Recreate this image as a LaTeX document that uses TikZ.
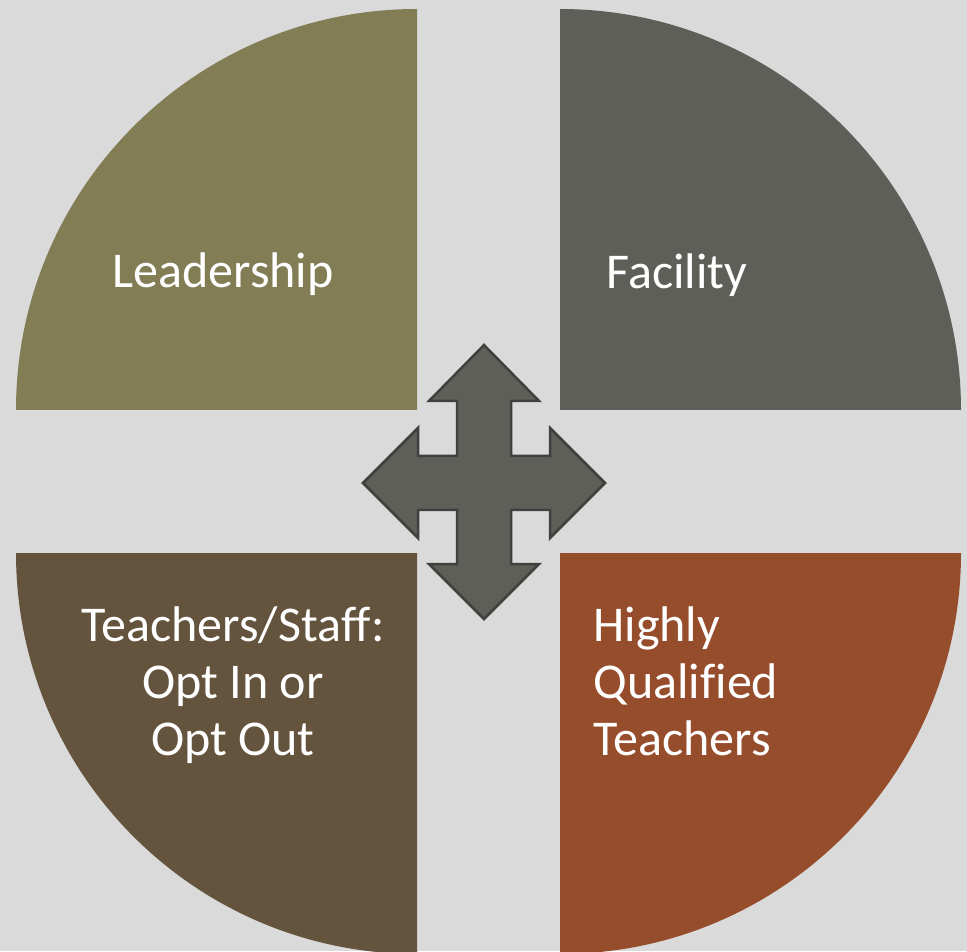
\documentclass[tikz,border=0pt]{standalone}
\usepackage{fontspec}
\setmainfont{Carlito}[Ligatures=NoCommon]
\usepackage{tikz}

\definecolor{canvas}{RGB}{218,218,218}
\definecolor{olive}{RGB}{130,125,85}
\definecolor{slate}{RGB}{95,95,90}
\definecolor{umber}{RGB}{100,83,61}
\definecolor{rust}{RGB}{150,77,44}
\definecolor{rim}{RGB}{64,64,62}

\begin{document}
\begin{tikzpicture}[x=0.02cm, y=0.02cm,
  caption/.style={text=white, font=\fontsize{28.5}{32.2}\selectfont, inner sep=0pt}]
\useasboundingbox (0, 0) rectangle (967, 951);
\clip (0, 0) rectangle (967, 951);
\fill[canvas] (0, 0) rectangle (967, 951);

% four quarters
\fill[olive] (417, 541) -- (16, 541) arc[start angle=180, end angle=90, radius=401] -- cycle;
\fill[slate] (560, 541) -- (560, 942) arc[start angle=90, end angle=0, radius=401] -- cycle;
\fill[umber] (417, 398) -- (16, 398) arc[start angle=180, end angle=270, radius=401] -- cycle;
\fill[rust] (560, 398) -- (961, 398) arc[start angle=0, end angle=-90, radius=401] -- cycle;

% the cross in the middle
\draw[fill=slate, draw=rim, line width=0.05cm, line join=miter]
  (484, 606) -- (539, 550) -- (511, 550) -- (511, 495) -- (550, 495) -- (550, 523)
  -- (605, 468) -- (550, 413) -- (550, 441) -- (511, 441) -- (511, 387) -- (539, 387)
  -- (484, 332) -- (429, 387) -- (457, 387) -- (457, 441) -- (418, 441) -- (418, 413)
  -- (363, 468) -- (418, 523) -- (418, 495) -- (457, 495) -- (457, 550) -- (429, 550) -- cycle;

\node[caption, anchor=base] (lead) at (223, 663) {Leadership};
\node[caption, anchor=base] (fac) at (677, 662) {Facility};
\node[caption, anchor=base, align=center] (staff) at (233, 196) {Teachers/Staff:\\Opt In or\\Opt Out};
\node[caption, anchor=base west, align=left] (hqt) at (593, 196) {Highly\\Qualified\\Teachers};
\end{tikzpicture}
\end{document}
